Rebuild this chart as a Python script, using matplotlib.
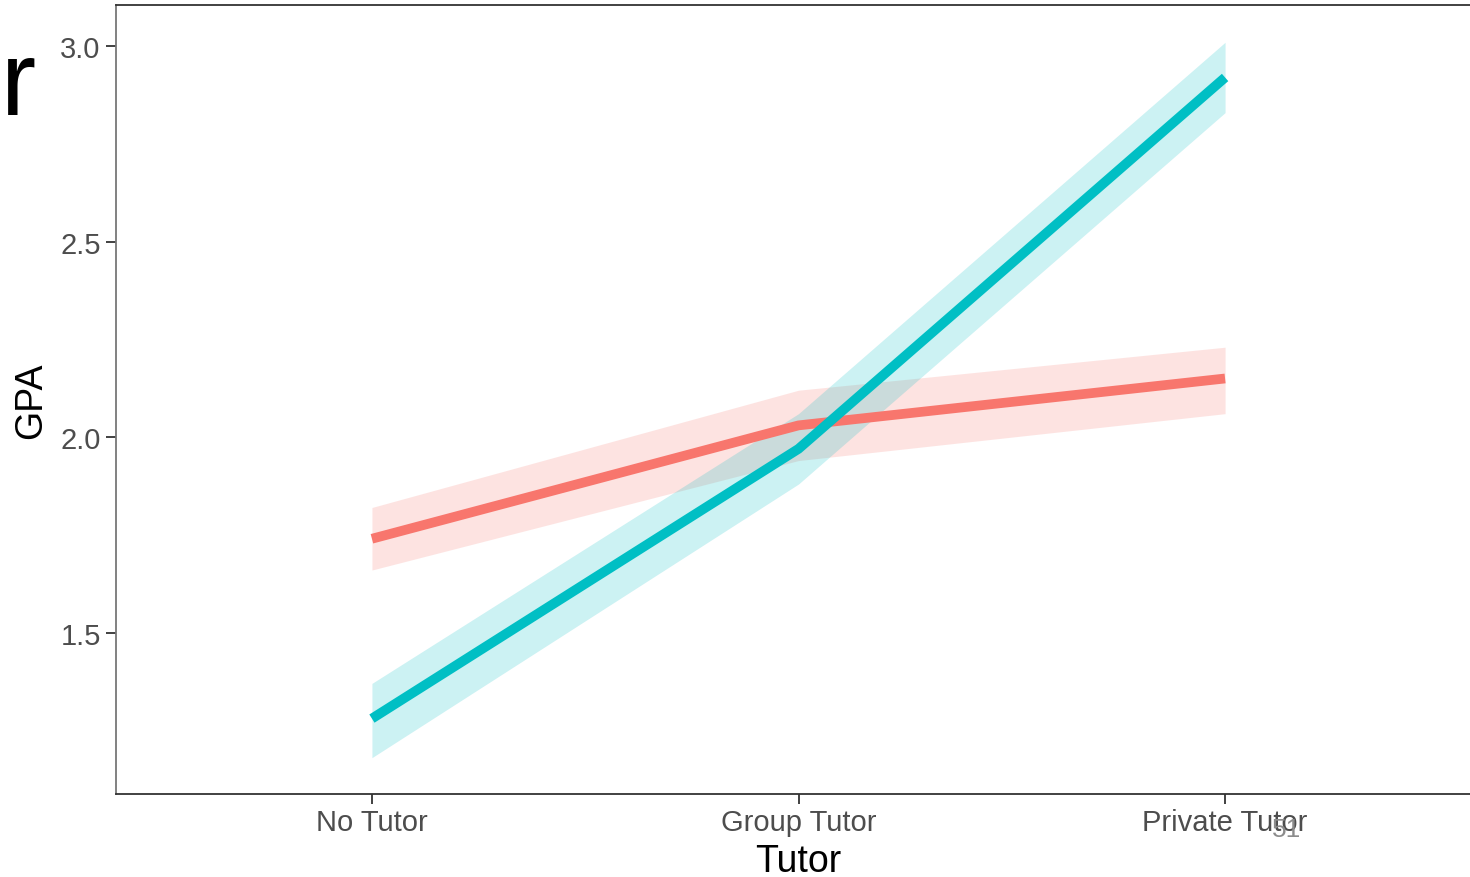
import numpy as np
import matplotlib.pyplot as plt

plt.rcParams['font.family'] = ['Liberation Sans', 'DejaVu Sans']

tutor = ["No Tutor", "Group Tutor", "Private Tutor"]
# group 1 (red) and group 2 (teal): fitted GPA with lower / upper bounds
red_fit = [1.74, 2.03, 2.15]
red_lo = [1.66, 1.94, 2.06]
red_hi = [1.82, 2.12, 2.23]
teal_fit = [1.28, 1.97, 2.92]
teal_lo = [1.18, 1.88, 2.83]
teal_hi = [1.37, 2.06, 3.01]
yticks = [1.5, 2.0, 2.5, 3.0]

fig = plt.figure(figsize=(14.7, 8.78), dpi=100)
ax = fig.add_axes([0.0789, 0.0945, 0.9286, 0.8985])

x = np.arange(len(tutor))
ax.fill_between(x, red_lo, red_hi, color="#F8766D", alpha=0.2, linewidth=0)
ax.fill_between(x, teal_lo, teal_hi, color="#00BFC4", alpha=0.2, linewidth=0)
ax.plot(x, red_fit, color="#F8766D", linewidth=7, solid_capstyle="butt")
ax.plot(x, teal_fit, color="#00BFC4", linewidth=7, solid_capstyle="butt")

ax.set_xlim(-0.6, 2.6)
ax.set_ylim(1.087, 3.105)
ax.set_xticks(x)
ax.set_xticklabels(tutor)
ax.set_yticks(yticks)
ax.set_yticklabels([f"{v:.1f}" for v in yticks])
ax.tick_params(axis="both", labelsize=21, labelcolor="#4D4D4D", color="#333333",
               length=7, width=1.3)
ax.tick_params(axis="x", pad=3)
ax.tick_params(axis="y", pad=4)

for s in ["left", "bottom", "top", "right"]:
    ax.spines[s].set_color("#333333")
    ax.spines[s].set_linewidth(1.3)
ax.spines["left"].set_color("#777777")

ax.set_xlabel("Tutor", fontsize=27, color="black", labelpad=5)
ax.set_ylabel("GPA", fontsize=27, color="black", labelpad=8)

# cropped slide decorations
fig.text(36 / 1470, 1 - 115 / 878, "r", fontsize=76, ha="right", va="baseline", color="black")
fig.text(1287 / 1470, 1 - 837 / 878, "51", fontsize=19, ha="center", va="baseline", color="#8C8C8C")

fig.savefig("out.png", dpi=100)
